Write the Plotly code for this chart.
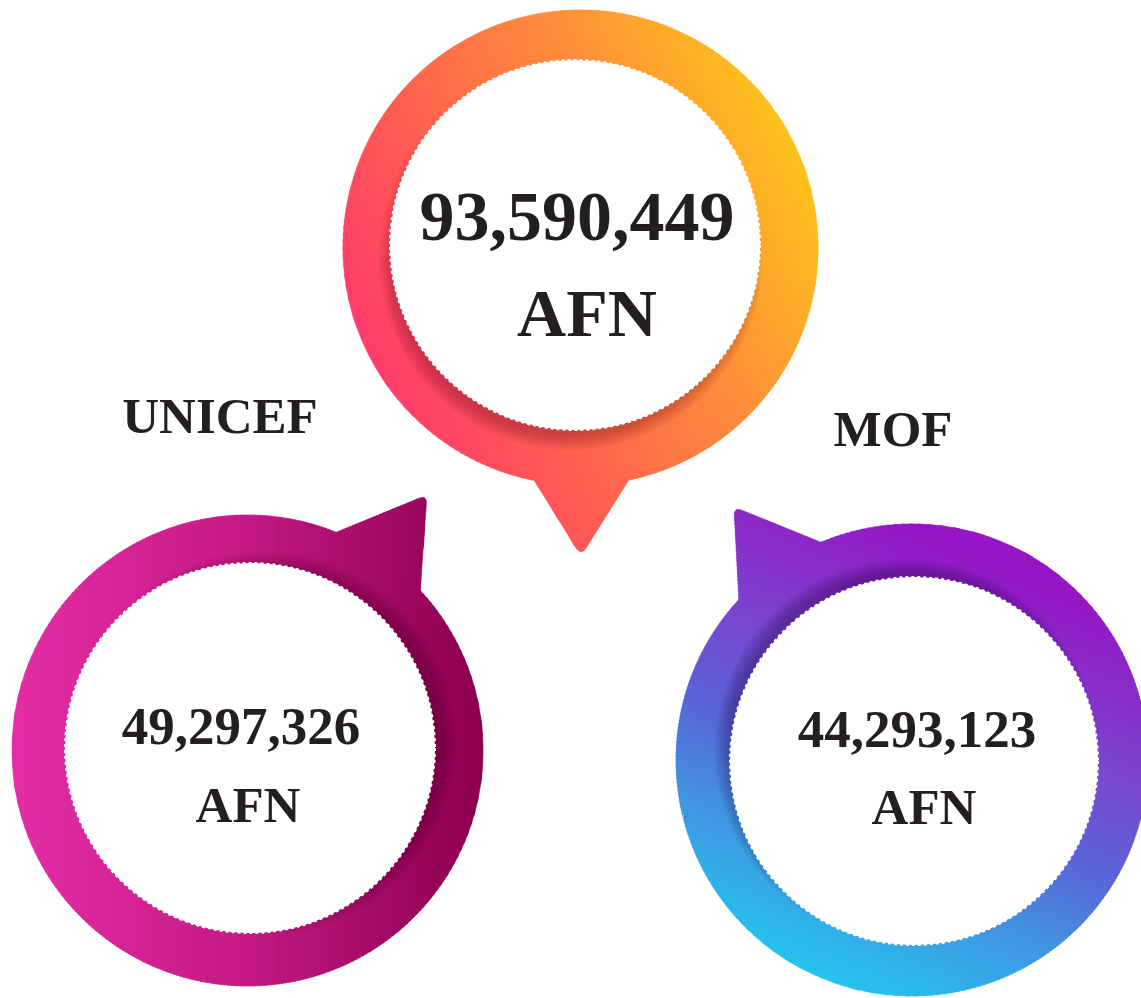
import numpy as np
import plotly.graph_objects as go

# ---------------- data ----------------
total_amount = 93590449
sources = ["UNICEF", "MOF"]
source_amounts = [49297326, 44293123]
currency = "AFN"

# ---------------- layout helpers ----------------
W, H = 1141, 998
TEXT_COLOR = "#231F20"
FONT = "Liberation Serif"


def hex_rgb(h):
    h = h.lstrip("#")
    return np.array([int(h[i:i + 2], 16) for i in (0, 2, 4)], dtype=float)


def grad_color(t, stops):
    t = min(max(t, 0.0), 1.0)
    for (t0, c0), (t1, c1) in zip(stops[:-1], stops[1:]):
        if t <= t1:
            f = 0 if t1 == t0 else (t - t0) / (t1 - t0)
            c = hex_rgb(c0) * (1 - f) + hex_rgb(c1) * f
            return "rgb(%d,%d,%d)" % tuple(np.round(c))
    c = hex_rgb(stops[-1][1])
    return "rgb(%d,%d,%d)" % tuple(c)


def circle_poly(cx, cy, r, n=360):
    a = np.linspace(0, 2 * np.pi, n, endpoint=False)
    return [(cx + r * np.cos(t), cy + r * np.sin(t)) for t in a]


def rounded_triangle(apex, p1, p2, d=9, k=7):
    A = np.array(apex, float)
    B = np.array(p1, float)
    C = np.array(p2, float)
    u1 = (B - A) / np.linalg.norm(B - A)
    u2 = (C - A) / np.linalg.norm(C - A)
    P1 = A + d * u1
    P2 = A + d * u2
    pts = [tuple(C), tuple(B)]
    for s in np.linspace(0, 1, k):
        q = (1 - s) ** 2 * P1 + 2 * (1 - s) * s * A + s ** 2 * P2
        pts.append(tuple(q))
    return pts


def clip(poly, n, c, keep_ge=True):
    out = []
    if not poly:
        return out
    def inside(p):
        v = p[0] * n[0] + p[1] * n[1]
        return v >= c if keep_ge else v <= c
    def inter(p, q):
        vp = p[0] * n[0] + p[1] * n[1]
        vq = q[0] * n[0] + q[1] * n[1]
        f = (c - vp) / (vq - vp)
        return (p[0] + f * (q[0] - p[0]), p[1] + f * (q[1] - p[1]))
    for i in range(len(poly)):
        cur = poly[i]
        prev = poly[i - 1]
        if inside(cur):
            if not inside(prev):
                out.append(inter(prev, cur))
            out.append(cur)
        elif inside(prev):
            out.append(inter(prev, cur))
    return out


def path_of(poly):
    return "M " + " L ".join("%.2f,%.2f" % p for p in poly) + " Z"


bubbles = [
    dict(outer=(580.5, 247.5, 237.5), inner=(575, 245, 185),
         pointer=rounded_triangle((581, 556), (518, 454), (645, 454), d=10),
         direction=(0.899, -0.437), s_range=(170, 660),
         stops=[(0, "#FF3A6C"), (0.3, "#FF6050"), (0.68, "#FE9238"), (1, "#FDC41A")],
         shadow=(-0.35, 1.0, 14, "90,10,30", 0.035)),
    dict(outer=(247.5, 750.5, 235.5), inner=(250, 748, 185),
         pointer=rounded_triangle((427, 495), (320, 539), (418, 620), d=9),
         direction=(1.0, 0.0), s_range=(12, 483),
         stops=[(0, "#E42EA6"), (0.5, "#C41A84"), (1, "#8C004E")],
         shadow=(1.0, -0.35, 14, "50,0,25", 0.035)),
    dict(outer=(912, 760, 236), inner=(914, 761, 184),
         pointer=rounded_triangle((734, 507), (840, 550), (740.5, 630), d=9),
         direction=(0.386, -0.922), s_range=(-610, -130),
         stops=[(0, "#20CCEE"), (0.11, "#2CB8EC"), (0.31, "#4490E0"), (0.48, "#5A64D8"),
                (0.68, "#7A46D0"), (0.85, "#8A2CC8"), (1, "#9616C6")],
         shadow=(-0.6, -0.8, 14, "35,0,60", 0.04)),
]

shapes = []
NB = 140
for b in bubbles:
    n = np.array(b["direction"], float)
    n = n / np.linalg.norm(n)
    polys = [circle_poly(*b["outer"]), b["pointer"]]
    s0, s1 = b["s_range"]
    # base disk in mid colour (fills any hairline gaps)
    ocx, ocy, orr = b["outer"]
    shapes.append(dict(type="circle", xref="x", yref="y", layer="below",
                       x0=ocx - orr + 1, x1=ocx + orr - 1, y0=ocy - orr + 1, y1=ocy + orr - 1,
                       fillcolor=grad_color(((ocx * n[0] + ocy * n[1]) - s0) / (s1 - s0), b["stops"]),
                       line=dict(width=0)))
    svals = [p[0] * n[0] + p[1] * n[1] for poly in polys for p in poly]
    smin, smax = min(svals) - 1, max(svals) + 1
    edges = np.linspace(smin, smax, NB + 1)
    for i in range(NB):
        a, c = edges[i], edges[i + 1] + 1.2
        t = ((edges[i] + edges[i + 1]) / 2 - s0) / (s1 - s0)
        col = grad_color(t, b["stops"])
        for poly in polys:
            part = clip(clip(poly, n, a, True), n, c, False)
            if len(part) >= 3:
                shapes.append(dict(type="path", path=path_of(part), fillcolor=col,
                                   line=dict(width=0.6, color=col), layer="below",
                                   xref="x", yref="y"))
    # soft offset shadow under the white disc
    cx, cy, r = b["inner"]
    ux, uy, D, rgb, op = b["shadow"]
    un = np.hypot(ux, uy)
    ux, uy = ux / un, uy / un
    for e in np.linspace(-7, 7, 9):
        shapes.append(dict(type="circle", xref="x", yref="y", layer="below",
                           x0=cx + ux * D - r - e, x1=cx + ux * D + r + e,
                           y0=cy + uy * D - r - e, y1=cy + uy * D + r + e,
                           fillcolor="rgba(%s,%.3f)" % (rgb, op), line=dict(width=0)))
    shapes.append(dict(type="circle", xref="x", yref="y", layer="below",
                       x0=cx - r, x1=cx + r, y0=cy - r, y1=cy + r,
                       fillcolor="white", line=dict(width=2, color="white", dash="dot")))

# ---------------- text ----------------
def fmt(v):
    return f"{v:,}"

text_items = [
    (fmt(total_amount), 577, 222, 70),
    (currency, 587, 319, 68),
    (fmt(source_amounts[0]), 241, 731, 53),
    (currency, 248, 809, 51),
    (fmt(source_amounts[1]), 917, 734, 53),
    (currency, 924, 811, 51),
    (sources[0], 220, 420, 51),
    (sources[1], 893, 433, 51),
]

fig = go.Figure()
fig.add_trace(go.Scatter(
    x=[t[1] for t in text_items], y=[t[2] for t in text_items],
    text=[t[0] for t in text_items], mode="text",
    textposition="middle center",
    textfont=dict(family=FONT, size=[t[3] for t in text_items],
                  color=TEXT_COLOR, weight=700),
    hoverinfo="skip", showlegend=False,
))

fig.update_layout(
    width=W, height=H, margin=dict(l=0, r=0, t=0, b=0),
    paper_bgcolor="white", plot_bgcolor="white",
    shapes=shapes, showlegend=False,
    xaxis=dict(range=[0, W], visible=False, fixedrange=True),
    yaxis=dict(range=[H, 0], visible=False, fixedrange=True),
)

fig.write_html("out.html", config={"displayModeBar": False},
               post_script="document.body.style.margin='0';document.body.style.overflow='hidden';")
